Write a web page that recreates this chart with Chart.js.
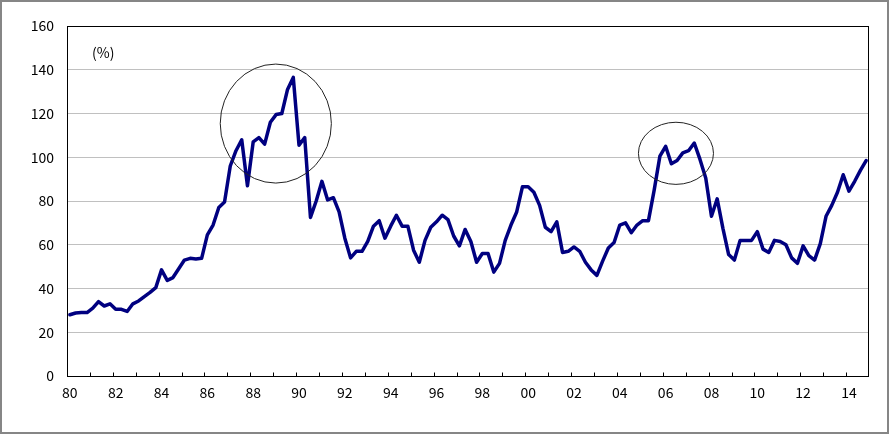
<!DOCTYPE html>
<html>
<head>
<meta charset="utf-8">
<script src="https://cdn.jsdelivr.net/npm/chart.js@4/dist/chart.umd.min.js"></script>
<style>
  html, body { margin: 0; padding: 0; background: #fff; }
  canvas { display: block; }
</style>
</head>
<body>
<canvas id="ratioChart" width="889" height="434"></canvas>
<script>
// years on the x axis (two digit, like the original)
const years = ['80','81','82','83','84','85','86','87','88','89',
               '90','91','92','93','94','95','96','97','98','99',
               '00','01','02','03','04','05','06','07','08','09',
               '10','11','12','13','14'];
const quarters = ['Q1', 'Q2', 'Q3', 'Q4'];

// quarterly values (%), four per year
const ratio = [
    28, 28.8, 29, 29,        // 80
    31, 34, 32, 33,          // 81
    30.5, 30.5, 29.5, 33,    // 82
    34.3, 36.3, 38.2, 40.4,  // 83
    48.5, 43.7, 45, 49,      // 84
    53, 53.8, 53.5, 53.8,    // 85
    64.5, 69, 77, 79.5,      // 86
    96, 103, 108, 87,        // 87
    107, 109, 106, 116,      // 88
    119.5, 120, 131, 136.5,  // 89
    105.5, 109, 72.5, 80,    // 90
    89, 80.5, 81.5, 75,      // 91
    63, 54, 57, 57,          // 92
    61.5, 68.5, 71, 63,      // 93
    68.5, 73.5, 68.5, 68.5,  // 94
    57.5, 52, 62, 68,        // 95
    70.5, 73.5, 71.5, 64,    // 96
    59.5, 67, 61.5, 52,      // 97
    56, 56, 47.5, 51.5,      // 98
    62, 69, 75, 86.5,        // 99
    86.5, 84, 78, 68,        // 00
    66, 70.5, 56.5, 57,      // 01
    59, 57, 52, 48.5,        // 02
    46, 52.5, 58.5, 61,      // 03
    69, 70, 65.5, 69,        // 04
    71, 71, 85, 100.5,       // 05
    105, 97, 98.5, 102,      // 06
    103, 106.5, 99, 90.5,    // 07
    73, 81, 67.5, 55.5,      // 08
    53, 62, 62, 62,          // 09
    66, 58, 56.5, 62,        // 10
    61.5, 60, 54, 51.5,      // 11
    59.5, 55, 53, 60.5,      // 12
    73, 78, 84, 92,          // 13
    84.5, 89, 94, 98.5       // 14
];

const yTicks = [0, 20, 40, 60, 80, 100, 120, 140, 160];

const labels = years.flatMap(y => quarters.map(q => y + q));

const FONT = "'Noto Sans CJK JP', 'Liberation Sans', sans-serif";

// frame, inward year ticks, circles and the (%) note
const decorPlugin = {
    id: 'decor',
    beforeDatasetsDraw(chart) {
        const { ctx, chartArea: a, scales: { x } } = chart;
        const L = Math.round(a.left) + 0.5, R = Math.round(a.right) - 0.5;
        const T = Math.round(a.top) + 0.5, B = Math.round(a.bottom) + 0.5;
        ctx.save();
        ctx.strokeStyle = '#000';
        ctx.lineWidth = 1;
        ctx.strokeRect(L, T, R - L, B - T);
        // year tick marks pointing up from the x axis
        const half = (x.getPixelForValue(1) - x.getPixelForValue(0)) / 2;
        ctx.beginPath();
        for (let i = 4; i < labels.length; i += 4) {
            const px = Math.round(x.getPixelForValue(i) - half) + 0.5;
            ctx.moveTo(px, B);
            ctx.lineTo(px, B - 4);
        }
        ctx.stroke();
        ctx.restore();
    },
    afterDatasetsDraw(chart) {
        const { ctx, scales: { x, y } } = chart;
        ctx.save();
        ctx.strokeStyle = '#222';
        ctx.lineWidth = 1;
        // circled periods: [centre index, centre value, radius in quarters, radius in %]
        [[35.95, 115.4, 9.7, 27.2], [105.8, 101.8, 6.55, 14.2]].forEach(e => {
            const cx = x.getPixelForValue(e[0]);
            const cy = y.getPixelForValue(e[1]);
            const rx = x.getPixelForValue(e[0] + e[2]) - cx;
            const ry = cy - y.getPixelForValue(e[1] + e[3]);
            ctx.beginPath();
            ctx.ellipse(cx, cy, rx, ry, 0, 0, Math.PI * 2);
            ctx.stroke();
        });
        ctx.fillStyle = '#000';
        ctx.font = '14px ' + FONT;
        ctx.textBaseline = 'middle';
        ctx.fillText('(%)', chart.chartArea.left + 25, 53);
        ctx.restore();
    },
    afterDraw(chart) {
        const ctx = chart.ctx;
        ctx.save();
        ctx.strokeStyle = '#868686';
        ctx.lineWidth = 2;
        ctx.strokeRect(1, 1, chart.width - 2, chart.height - 2);
        ctx.restore();
    }
};

const ctxRatio = document.getElementById('ratioChart').getContext('2d');
new Chart(ctxRatio, {
    type: 'line',
    data: {
        labels: labels,
        datasets: [{
            data: ratio,
            borderColor: '#000080',
            borderWidth: 3.5,
            borderJoinStyle: 'round',
            borderCapStyle: 'round',
            pointRadius: 0,
            tension: 0,
            fill: false
        }]
    },
    options: {
        responsive: false,
        animation: false,
        layout: { padding: { top: 26, right: 20, left: 0, bottom: 0 } },
        plugins: { legend: { display: false }, tooltip: { enabled: false } },
        scales: {
            x: {
                type: 'category',
                offset: true,
                grid: { display: false },
                border: { display: false },
                afterFit: s => { s.height = 58; },
                ticks: {
                    autoSkip: false,
                    maxRotation: 0,
                    padding: 0,
                    color: '#000',
                    font: { size: 14, family: FONT },
                    callback: (v, i) => (i % 8 === 0 ? years[i / 4] : '')
                }
            },
            y: {
                min: yTicks[0],
                max: yTicks[yTicks.length - 1],
                afterFit: s => { s.width = 67; },
                afterBuildTicks: s => { s.ticks = yTicks.map(v => ({ value: v })); },
                grid: { color: '#c0c0c0', drawTicks: false },
                border: { display: false },
                ticks: {
                    padding: 13,
                    color: '#000',
                    font: { size: 14, family: FONT }
                }
            }
        }
    },
    plugins: [decorPlugin]
});
</script>
</body>
</html>
